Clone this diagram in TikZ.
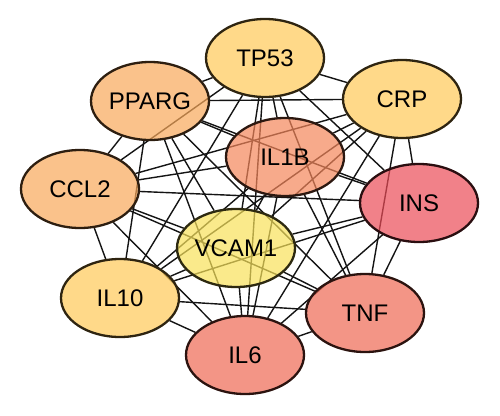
\documentclass[tikz,border=0pt]{standalone}
\usepackage{fontspec}
\setmainfont{Liberation Sans}
\usetikzlibrary{shapes.geometric}
\pgfdeclarelayer{paper}
\pgfdeclarelayer{bg}
\pgfsetlayers{paper,bg,main}
\definecolor{cYel}{RGB}{255,202,88}
\definecolor{cOra}{RGB}{249,169,91}
\definecolor{cSal}{RGB}{244,134,91}
\definecolor{cIns}{RGB}{236,76,88}
\definecolor{cVca}{RGB}{248,226,91}
\definecolor{cRed}{RGB}{238,105,84}
\tikzset{
  gene/.style={ellipse, minimum width=118pt, minimum height=78pt, inner sep=0pt,
    fill=#1, fill opacity=0.7, text opacity=1, draw=#1!18!black, line width=2.3pt,
    font=\fontsize{24}{28}\selectfont},
  link/.style={draw=black!92, line width=1.4pt}
}
\begin{document}
\begin{tikzpicture}[x=1pt,y=-1pt]
\begin{pgfonlayer}{paper}
\fill[white] (0,0) rectangle (500,415);
\end{pgfonlayer}
\useasboundingbox (0,0) rectangle (500,415);
\node[gene=cYel] (n1) at (265,58) {TP53};
\node[gene=cYel] (n2) at (402,99) {CRP};
\node[gene=cOra] (n3) at (150,101) {PPARG};
\node[gene=cOra] (n4) at (80,189) {CCL2};
\node[gene=cSal] (n5) at (285,157) {IL1B};
\node[gene=cIns] (n6) at (419,203) {INS};
\node[gene=cVca] (n7) at (236,248) {VCAM1};
\node[gene=cYel] (n8) at (120,298) {IL10};
\node[gene=cRed] (n9) at (245,355) {IL6};
\node[gene=cRed] (n10) at (365,313) {TNF};
\begin{pgfonlayer}{bg}
\foreach \i in {1,...,9}{
  \pgfmathtruncatemacro\k{\i+1}
  \foreach \j in {\k,...,10}{
    \draw[link] (n\i) -- (n\j);
  }
}
\end{pgfonlayer}
\end{tikzpicture}
\end{document}
